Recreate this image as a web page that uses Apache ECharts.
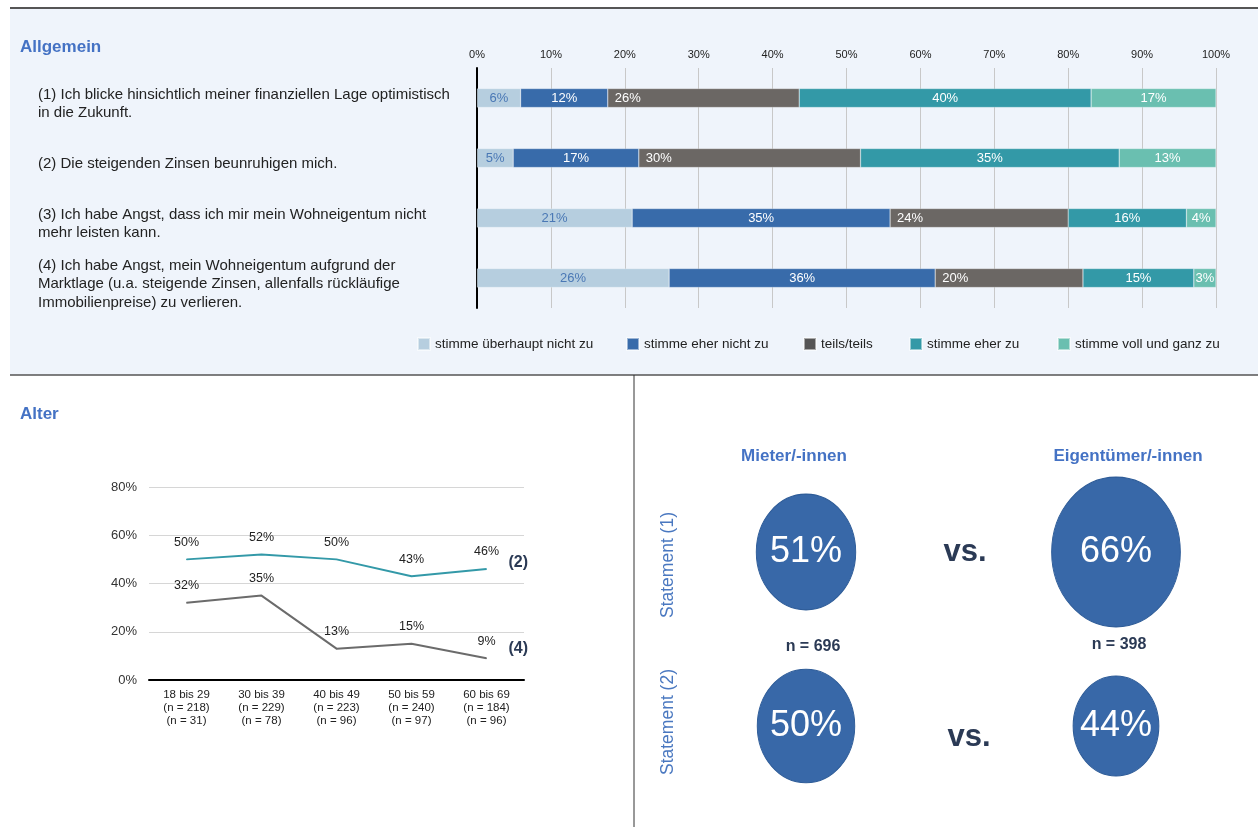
<!DOCTYPE html>
<html>
<head>
<meta charset="utf-8">
<title>Wohneigentum – Einschätzungen</title>
<script src="https://cdn.jsdelivr.net/npm/echarts@6/dist/echarts.min.js"></script>
<style>
  html, body { margin: 0; padding: 0; background: #fff; }
  #main { width: 1258px; height: 827px; }
</style>
</head>
<body>
<div id="main"></div>
<script>
// Allgemein: Aussagen (1)-(4)
const statements = [
  '(1) Ich blicke hinsichtlich meiner finanziellen Lage optimistisch\nin die Zukunft.',
  '(2) Die steigenden Zinsen beunruhigen mich.',
  '(3) Ich habe Angst, dass ich mir mein Wohneigentum nicht\nmehr leisten kann.',
  '(4) Ich habe Angst, mein Wohneigentum aufgrund der\nMarktlage (u.a. steigende Zinsen, allenfalls rückläufige\nImmobilienpreise) zu verlieren.'
];
const answerLevels = ['stimme überhaupt nicht zu', 'stimme eher nicht zu', 'teils/teils', 'stimme eher zu', 'stimme voll und ganz zu'];
// Anteile in % (Balkenlänge), Reihenfolge wie statements
const notAtAll = [5.9, 4.9, 21, 26];
const ratherNot = [11.8, 17, 34.9, 36];
const partly = [25.9, 30, 24.1, 20];
const rather = [39.5, 35, 16, 15];
const fully = [16.9, 13.1, 4, 3];

// Alter
const ageGroups = ['18 bis 29', '30 bis 39', '40 bis 49', '50 bis 59', '60 bis 69'];
const nStatement2 = [218, 229, 223, 240, 184];
const nStatement4 = [31, 78, 96, 97, 96];
const ageStatement2 = [50, 52, 50, 43, 46];
const ageStatement4 = [32, 35, 13, 15, 9];

// Mieter vs. Eigentümer
const groups = ['Mieter/-innen', 'Eigentümer/-innen'];
const groupN = [696, 398];
const bubbleRows = ['Statement (1)', 'Statement (2)'];
const tenantShare = [51, 50];
const ownerShare = [66, 44];

const FONT = '"Liberation Sans", Arial, sans-serif';
const barColors = ['#B6CEDF', '#386BAA', '#6B6764', '#3399A7', '#6ABFB0'];
const legendLeft = [417, 626, 803, 909, 1057];

function initChart() {
  const chart = echarts.init(document.getElementById('main'), null, { renderer: 'canvas' });

  const barSeries = [notAtAll, ratherNot, partly, rather, fully].map((vals, i) => ({
    name: answerLevels[i],
    type: 'bar',
    stack: 'all',
    xAxisIndex: 0,
    yAxisIndex: 0,
    barWidth: 19,
    data: vals,
    itemStyle: { color: barColors[i], borderColor: 'rgba(255,255,255,0.5)', borderWidth: 0.5 },
    label: {
      show: true,
      position: i === 2 ? 'insideLeft' : 'inside',
      distance: 7,
      color: i === 0 ? '#4A78B5' : '#fff',
      fontSize: 13,
      fontFamily: FONT,
      formatter: p => Math.round(p.value) + '%'
    }
  }));

  const bubbleData = [];
  bubbleRows.forEach((row, r) => {
    bubbleData.push([0, r, tenantShare[r]]);
    bubbleData.push([1, r, ownerShare[r]]);
  });

  const centerText = { align: 'center', verticalAlign: 'middle', textAlign: 'center', textVerticalAlign: 'middle' };

  const option = {
    animation: false,
    textStyle: { fontFamily: FONT },
    graphic: [
      { type: 'rect', z: -10, shape: { x: 10, y: 8, width: 1248, height: 367 }, style: { fill: '#EFF4FB' } },
      { type: 'line', shape: { x1: 10, y1: 8, x2: 1258, y2: 8 }, style: { stroke: '#555', lineWidth: 2 } },
      { type: 'line', shape: { x1: 10, y1: 375, x2: 1258, y2: 375 }, style: { stroke: '#555', lineWidth: 1.5 } },
      { type: 'line', shape: { x1: 634, y1: 375, x2: 634, y2: 827 }, style: { stroke: '#333', lineWidth: 1 } },
      { type: 'text', x: 20, y: 47, style: { text: 'Allgemein', fill: '#4472C4', font: 'bold 17px ' + FONT, verticalAlign: 'middle', textVerticalAlign: 'middle' } },
      { type: 'text', x: 20, y: 414, style: { text: 'Alter', fill: '#4472C4', font: 'bold 17px ' + FONT, verticalAlign: 'middle', textVerticalAlign: 'middle' } },
      // Statement-Beschriftungen (senkrecht)
      { type: 'text', x: 668, y: 565, rotation: Math.PI / 2, style: Object.assign({ text: bubbleRows[0], fill: '#4A78C0', font: '17.5px ' + FONT }, centerText) },
      { type: 'text', x: 668, y: 722, rotation: Math.PI / 2, style: Object.assign({ text: bubbleRows[1], fill: '#4A78C0', font: '17.5px ' + FONT }, centerText) },
      { type: 'text', x: 813, y: 647, style: Object.assign({ text: 'n = ' + groupN[0], fill: '#2B3A55', font: 'bold 16px ' + FONT }, centerText) },
      { type: 'text', x: 1119, y: 645, style: Object.assign({ text: 'n = ' + groupN[1], fill: '#2B3A55', font: 'bold 16px ' + FONT }, centerText) },
      { type: 'text', x: 965, y: 552, style: Object.assign({ text: 'vs.', fill: '#2B3A55', font: 'bold 31px ' + FONT }, centerText) },
      { type: 'text', x: 969, y: 737, style: Object.assign({ text: 'vs.', fill: '#2B3A55', font: 'bold 31px ' + FONT }, centerText) }
    ],
    legend: answerLevels.map((name, i) => ({
      data: [i === 2 ? { name: name, itemStyle: { color: '#555' } } : name],
      left: legendLeft[i],
      top: 337,
      padding: 0,
      icon: 'rect',
      itemWidth: 12,
      itemHeight: 12,
      selectedMode: false,
      textStyle: { fontSize: 13.5, color: '#222', fontFamily: FONT }
    })),
    grid: [
      { left: 477, right: 42, top: 68, height: 240, outerBoundsMode: 'none' },
      { left: 149, width: 375, top: 487, height: 193, outerBoundsMode: 'none' },
      { left: 806, width: 310, top: 552, height: 174, outerBoundsMode: 'none' }
    ],
    xAxis: [
      {
        gridIndex: 0, type: 'value', position: 'top', min: 0, max: 100, interval: 10,
        axisLine: { show: false }, axisTick: { show: false },
        axisLabel: { formatter: '{value}%', fontSize: 11, color: '#222', margin: 8 },
        splitLine: { lineStyle: { color: '#C8C8C8', width: 1 } }
      },
      {
        gridIndex: 1, type: 'category', data: ageGroups,
        axisLine: { lineStyle: { color: '#000', width: 2 } }, axisTick: { show: false },
        axisLabel: {
          fontSize: 11.5, color: '#222', lineHeight: 13, margin: 8,
          formatter: (v, idx) => v + '\n(n = ' + nStatement2[idx] + ')\n(n = ' + nStatement4[idx] + ')'
        }
      },
      {
        gridIndex: 2, type: 'category', data: groups, position: 'top', boundaryGap: false,
        axisLine: { show: false }, axisTick: { show: false }, splitLine: { show: false },
        axisLabel: {
          margin: 87,
          formatter: (v, idx) => idx === 0 ? '{a|' + v + '}' : '{b|' + v + '}',
          rich: {
            a: { fontSize: 17, fontWeight: 'bold', color: '#4472C4', padding: [0, 24, 0, 0] },
            b: { fontSize: 17, fontWeight: 'bold', color: '#4472C4', padding: [0, 0, 0, 24] }
          }
        }
      }
    ],
    yAxis: [
      {
        gridIndex: 0, type: 'category', data: statements, inverse: true,
        axisLine: { lineStyle: { color: '#000', width: 2 } }, axisTick: { show: false },
        axisLabel: {
          align: 'left', margin: 439, fontSize: 15, lineHeight: 18.5, color: '#222',
          // leere Zeile oben schiebt den Text etwas unter die Balkenmitte
          formatter: v => '{gap| }\n' + v,
          rich: { gap: { fontSize: 1, lineHeight: 12, height: 12 } }
        }
      },
      {
        gridIndex: 1, type: 'value', min: 0, max: 80, interval: 20,
        axisLine: { show: false }, axisTick: { show: false },
        axisLabel: { formatter: '{value}%', fontSize: 13, color: '#333', margin: 12 },
        splitLine: { lineStyle: { color: '#D6D6D6' } }
      },
      {
        gridIndex: 2, type: 'category', data: bubbleRows, inverse: true, boundaryGap: false,
        axisLine: { show: false }, axisTick: { show: false }, axisLabel: { show: false }, splitLine: { show: false }
      }
    ],
    series: barSeries.concat([
      {
        name: '(2)', type: 'line', xAxisIndex: 1, yAxisIndex: 1, data: ageStatement2,
        symbol: 'circle', symbolSize: 1, itemStyle: { color: '#3399A8' },
        lineStyle: { color: '#3399A8', width: 2 },
        label: { show: true, position: 'top', distance: 10, formatter: '{c}%', fontSize: 12.5, color: '#222' },
        endLabel: { show: true, formatter: '(2)', fontSize: 16, fontWeight: 'bold', color: '#2B3A55', offset: [14, -6] }
      },
      {
        name: '(4)', type: 'line', xAxisIndex: 1, yAxisIndex: 1, data: ageStatement4,
        symbol: 'circle', symbolSize: 1, itemStyle: { color: '#6B6B6B' },
        lineStyle: { color: '#6B6B6B', width: 2 },
        label: { show: true, position: 'top', distance: 10, formatter: '{c}%', fontSize: 12.5, color: '#222' },
        endLabel: { show: true, formatter: '(4)', fontSize: 16, fontWeight: 'bold', color: '#2B3A55', offset: [14, -10] }
      },
      {
        name: 'Zustimmung', type: 'scatter', xAxisIndex: 2, yAxisIndex: 2, data: bubbleData,
        symbolSize: v => [v[2] * 1.95, v[2] * 2.27],
        itemStyle: { color: '#3868A8', borderColor: '#2E5C98', borderWidth: 1, opacity: 1 },
        label: { show: true, position: 'inside', formatter: p => p.value[2] + '%', fontSize: 36, color: '#fff' }
      }
    ])
  };
  chart.setOption(option);
}

initChart();
</script>
</body>
</html>
